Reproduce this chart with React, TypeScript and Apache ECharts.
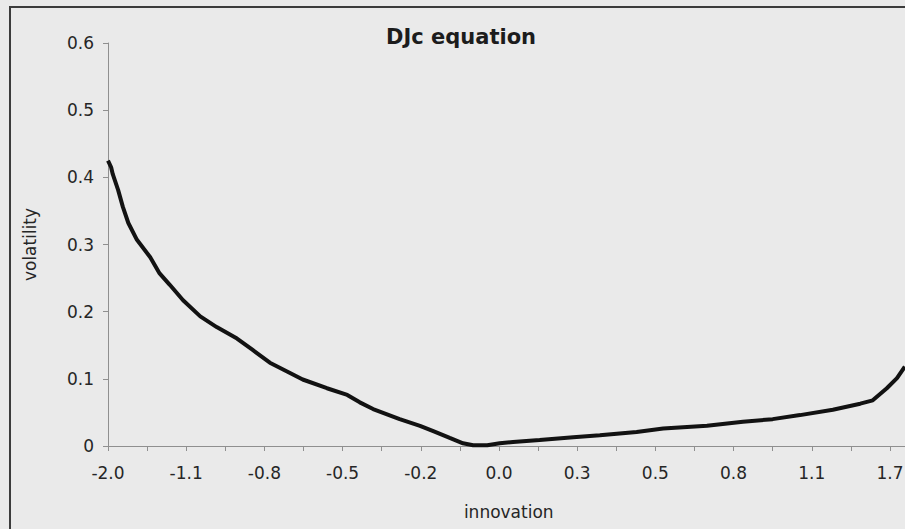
import React, { useEffect, useRef } from "react";
import * as echarts from "echarts";

// x tick labels (one per 10 data positions)
const tickLabels = ["-2.0", "-1.1", "-0.8", "-0.5", "-0.2", "0.0", "0.3", "0.5", "0.8", "1.1", "1.7"];

// position of each read point along the category axis (sorted innovations)
const pointIndex = [
  0, 0.4, 0.6, 1.3, 1.9, 2.6, 3.7, 5.4, 6.6, 7.9, 9.6, 11.8, 13.9, 16.5, 18.5, 20.7, 22.9, 24.9, 28.0,
  30.6, 32.2, 33.9, 37.3, 39.9, 41.6, 43.7, 45.4, 46.7, 48.5, 50.1, 51.8, 55.2, 59.5, 62.9, 67.6, 71.0,
  76.6, 81.2, 85.0, 88.5, 92.7, 96.2, 97.8, 99.6, 100.9, 101.9,
];

// volatility read at each point
const volatility = [
  0.425, 0.415, 0.405, 0.381, 0.356, 0.332, 0.307, 0.281, 0.257, 0.24, 0.217, 0.193, 0.177, 0.16, 0.143,
  0.124, 0.111, 0.099, 0.086, 0.076, 0.065, 0.055, 0.04, 0.03, 0.022, 0.012, 0.004, 0.001, 0.001, 0.004,
  0.006, 0.009, 0.013, 0.016, 0.021, 0.026, 0.03, 0.036, 0.04, 0.046, 0.054, 0.063, 0.068, 0.086, 0.101,
  0.118,
];

const FONT = "DejaVu Sans";
const TEXT = "#262626";
const AXIS = "#8f8f8f";

export default function App() {
  const ref = useRef<HTMLDivElement>(null);

  useEffect(() => {
    if (!ref.current) return;
    const chart = echarts.init(ref.current, null, { renderer: "svg" });
    const data = pointIndex.map((x, i) => [x, volatility[i]]);
    chart.setOption({
      animation: false,
      backgroundColor: "#eaeaea",
      title: {
        text: "DJc equation",
        left: 461,
        top: 26,
        textAlign: "center",
        padding: 0,
        textStyle: { fontFamily: FONT, fontSize: 21, fontWeight: "bold", color: "#1c1c1c" },
      },
      graphic: [
        {
          type: "rect",
          shape: { x: 10, y: 7, width: 1200, height: 800 },
          style: { fill: "none", stroke: "#3c3c3c", lineWidth: 2 },
          silent: true,
          z: 10,
        },
      ],
      grid: {
        left: 108,
        top: 43,
        width: 801.5,
        height: 403,
        containLabel: false,
        outerBoundsMode: "none",
      },
      xAxis: {
        type: "value",
        min: 0,
        max: 102.5,
        interval: 5,
        name: "innovation",
        nameLocation: "middle",
        nameGap: 57,
        nameTextStyle: { fontFamily: FONT, fontSize: 17, color: TEXT },
        axisLine: { show: true, lineStyle: { color: AXIS, width: 1 } },
        axisTick: { show: true, length: 5, lineStyle: { color: AXIS } },
        splitLine: { show: false },
        axisLabel: {
          margin: 18,
          fontFamily: FONT,
          fontSize: 17,
          color: TEXT,
          showMaxLabel: true,
          formatter: (v: number) => (Math.abs(v % 10) < 1e-9 ? tickLabels[Math.round(v / 10)] ?? "" : ""),
        },
      },
      yAxis: {
        type: "value",
        min: 0,
        max: 0.6,
        interval: 0.1,
        name: "volatility",
        nameLocation: "middle",
        nameGap: 70,
        nameRotate: 90,
        nameTextStyle: { fontFamily: FONT, fontSize: 17, color: TEXT },
        axisLine: { show: true, lineStyle: { color: AXIS, width: 1 } },
        axisTick: { show: true, length: 5, lineStyle: { color: AXIS } },
        splitLine: { show: false },
        axisLabel: { margin: 14, fontFamily: FONT, fontSize: 17, color: TEXT },
      },
      series: [
        {
          type: "line",
          data,
          showSymbol: false,
          symbol: "none",
          lineStyle: { color: "#121212", width: 4 },
          clip: true,
        },
      ],
    });
    return () => chart.dispose();
  }, []);

  return (
    <div
      ref={ref}
      style={{ position: "fixed", left: 0, top: 0, width: 905, height: 529 }}
    />
  );
}
